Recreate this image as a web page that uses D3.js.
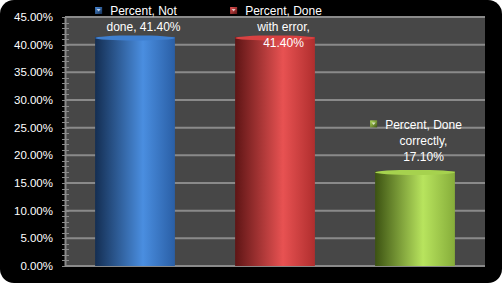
<!DOCTYPE html>
<html lang="en">
<head>
    <meta charset="UTF-8">
    <title>Percent chart</title>
    <style>
        body {
            margin: 0;
            background: #fff;
        }
        #chart {
            display: block;
        }
        .tick-label {
            font-family: "Liberation Sans", Arial, sans-serif;
            font-size: 11.5px;
            fill: #fff;
        }
        .data-label {
            font-family: "Liberation Sans", Arial, sans-serif;
            font-size: 12px;
            fill: #fff;
        }
    </style>
</head>
<body>
    <svg id="chart" width="502" height="283"></svg>

    <script src="https://d3js.org/d3.v7.min.js"></script>
    <script>
        // chart data
        const categories = ["Not done", "Done with error", "Done correctly"];
        const values = [0.414, 0.414, 0.171];
        const labelLines = [
            ["Percent, Not", "done, 41.40%"],
            ["Percent, Done", "with error,", "41.40%"],
            ["Percent, Done", "correctly,", "17.10%"]
        ];
        const yTicks = [0, 0.05, 0.10, 0.15, 0.20, 0.25, 0.30, 0.35, 0.40, 0.45];
        const palettes = [
            { dark: "#142e52", mid: "#4a8ee0", edge: "#2a5fa6", cap: "#3f7fcf" },
            { dark: "#5e1515", mid: "#e85252", edge: "#b02e2e", cap: "#d84242" },
            { dark: "#3c5212", mid: "#b8e45e", edge: "#86ad3a", cap: "#a6d24e" }
        ];

        const width = 502, height = 283;
        const plot = { left: 65, right: 485, top: 17, bottom: 266 };

        const svg = d3.select("#chart");
        const defs = svg.append("defs");

        // black rounded frame
        svg.append("rect")
            .attr("x", 0).attr("y", 0)
            .attr("width", width).attr("height", height)
            .attr("rx", 14).attr("ry", 14)
            .attr("fill", "#000");

        const x = d3.scaleBand()
            .domain(categories)
            .range([plot.left, plot.right])
            .paddingInner(0.43)
            .paddingOuter(0.215);

        const y = d3.scaleLinear()
            .domain([0, 0.45])
            .range([plot.bottom, plot.top]);

        // plot background
        svg.append("rect")
            .attr("x", plot.left).attr("y", plot.top)
            .attr("width", plot.right - plot.left)
            .attr("height", plot.bottom - plot.top)
            .attr("fill", "#474747");

        // gridlines
        svg.selectAll(".grid")
            .data(yTicks.slice(1))
            .enter()
            .append("line")
            .attr("class", "grid")
            .attr("x1", plot.left).attr("x2", plot.right)
            .attr("y1", d => y(d)).attr("y2", d => y(d))
            .attr("stroke", "#8a8a8a")
            .attr("stroke-width", 2);

        // y axis with minor ticks
        const minor = d3.range(0, 46).map(d => d / 100);
        svg.selectAll(".minor")
            .data(minor)
            .enter()
            .append("line")
            .attr("x1", plot.left - 3).attr("x2", plot.left + 4)
            .attr("y1", d => Math.round(y(d)) + 0.5)
            .attr("y2", d => Math.round(y(d)) + 0.5)
            .attr("stroke", "#8a8a8a");

        svg.append("line")
            .attr("x1", plot.left + 0.5).attr("x2", plot.left + 0.5)
            .attr("y1", plot.top).attr("y2", plot.bottom)
            .attr("stroke", "#8a8a8a")
            .attr("stroke-width", 2);

        svg.append("line")
            .attr("x1", plot.left).attr("x2", plot.right)
            .attr("y1", plot.bottom).attr("y2", plot.bottom)
            .attr("stroke", "#8a8a8a")
            .attr("stroke-width", 2);

        svg.selectAll(".tick-label")
            .data(yTicks)
            .enter()
            .append("text")
            .attr("class", "tick-label")
            .attr("x", 53)
            .attr("y", d => y(d))
            .attr("dy", "0.35em")
            .attr("text-anchor", "end")
            .text(d => d3.format(".2%")(d));

        // gradients for cylinders
        palettes.forEach((p, i) => {
            const g = defs.append("linearGradient")
                .attr("id", "cyl" + i)
                .attr("x1", 0).attr("x2", 1).attr("y1", 0).attr("y2", 0);
            g.append("stop").attr("offset", "0%").attr("stop-color", p.dark);
            g.append("stop").attr("offset", "60%").attr("stop-color", p.mid);
            g.append("stop").attr("offset", "100%").attr("stop-color", p.edge);

            const m = defs.append("linearGradient")
                .attr("id", "mark" + i)
                .attr("x1", 0).attr("x2", 1).attr("y1", 0).attr("y2", 1);
            m.append("stop").attr("offset", "0%").attr("stop-color", p.mid);
            m.append("stop").attr("offset", "100%").attr("stop-color", p.dark);
        });

        // bars
        const bars = svg.selectAll(".bar")
            .data(values)
            .enter()
            .append("g")
            .attr("class", "bar");

        bars.append("rect")
            .attr("x", (d, i) => x(categories[i]))
            .attr("y", d => y(d))
            .attr("width", x.bandwidth())
            .attr("height", d => y(0) - y(d))
            .attr("fill", (d, i) => `url(#cyl${i})`);

        bars.append("ellipse")
            .attr("cx", (d, i) => x(categories[i]) + x.bandwidth() / 2)
            .attr("cy", d => y(d) + 1)
            .attr("rx", x.bandwidth() / 2)
            .attr("ry", 2.5)
            .attr("fill", (d, i) => palettes[i].cap);

        // data labels
        const lineH = 16;
        const labels = svg.selectAll(".label")
            .data(values)
            .enter()
            .append("g")
            .attr("class", "label")
            .attr("transform", (d, i) => {
                const n = labelLines[i].length;
                let top = y(d) - 15 - (n - 1) * lineH;
                top = Math.max(top, 11);
                const cx = x(categories[i]) + x.bandwidth() / 2 + 8.5;
                return `translate(${cx},${top})`;
            });

        labels.each(function(d, i) {
            const g = d3.select(this);
            labelLines[i].forEach((line, k) => {
                g.append("text")
                    .attr("class", "data-label")
                    .attr("x", 0)
                    .attr("y", k * lineH)
                    .attr("dy", "0.35em")
                    .attr("text-anchor", "middle")
                    .text(line);
            });
            const first = g.select("text").node().getBBox();
            const mx = first.x - 15;
            g.append("rect")
                .attr("x", mx)
                .attr("y", -4)
                .attr("width", 7).attr("height", 7)
                .attr("fill", `url(#mark${i})`);
            g.append("path")
                .attr("d", `M${mx + 1.5},-2 L${mx + 5.5},-2 L${mx + 3.5},0.5 Z`)
                .attr("fill", "#fff")
                .attr("opacity", 0.7);
        });
    </script>
</body>
</html>
